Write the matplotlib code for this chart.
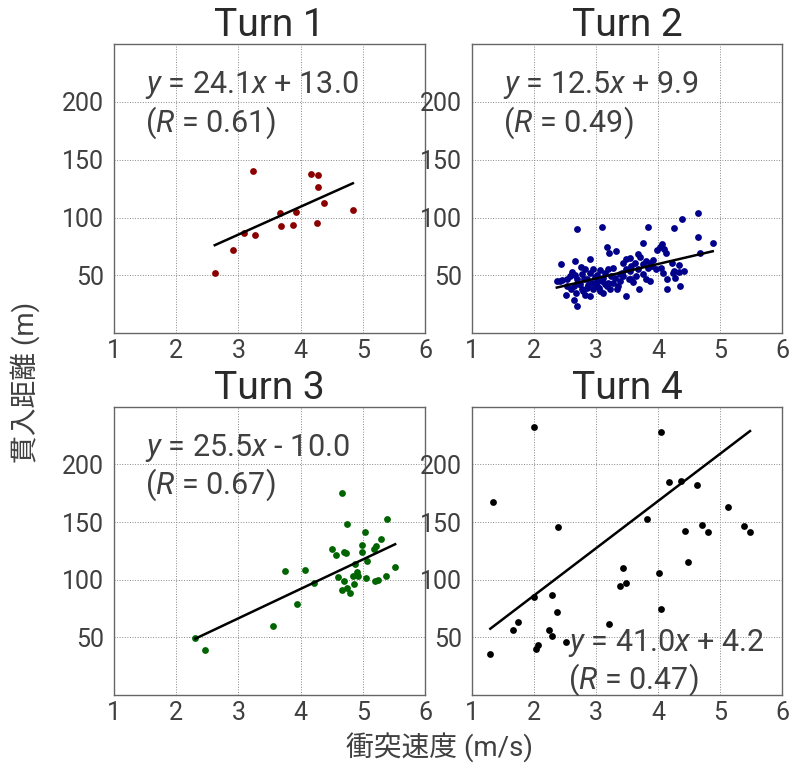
import matplotlib
matplotlib.use("Agg")
import matplotlib.pyplot as plt
import numpy as np

plt.rcParams['font.family'] = ['Roboto', 'Noto Sans CJK JP', 'DejaVu Sans']
plt.rcParams['mathtext.fontset'] = 'custom'
plt.rcParams['mathtext.rm'] = 'Roboto'
plt.rcParams['mathtext.it'] = 'Roboto:italic'

# ---- data: impact speed (m/s) vs. penetration distance (m) per turn ----
titles = ["Turn 1", "Turn 2", "Turn 3", "Turn 4"]
colors = ["#8b0000", "#00008b", "#006400", "#000000"]

t1_speed = [2.62, 2.92, 3.09, 3.23, 3.26, 3.67, 3.68, 3.87, 3.93, 4.16, 4.28, 4.28, 4.27, 4.38, 4.84]
t1_depth = [52.4, 71.9, 87.1, 140.1, 85.1, 103.7, 92.3, 93.7, 104.6, 137.3, 136.7, 126.7, 95.7, 112.3, 106.6]

t2_speed = [2.70, 3.10, 3.84, 4.26, 4.39, 4.65, 4.65, 4.88, 4.67, 3.76, 3.17, 3.32, 3.21,
            2.44, 2.67, 2.90, 2.76, 2.61, 2.42, 2.45, 2.52, 2.64, 2.69, 2.60, 3.48, 3.70,
            4.15, 4.36, 4.14, 4.27, 4.33, 4.41, 4.25, 4.24, 4.33, 4.23, 4.13, 4.09, 4.03,
            4.06, 3.98, 3.92, 3.87, 3.81, 3.68, 3.71, 3.55, 3.44, 3.48, 3.57, 3.68, 3.76,
            3.84, 3.91, 3.97, 4.05, 4.08, 3.81, 3.87, 3.76, 3.65, 3.54, 3.44, 3.39, 3.34,
            3.28, 3.23, 3.17, 3.12, 3.09, 3.15, 3.20, 3.28, 3.25, 3.07, 3.01, 2.96, 2.91,
            2.86, 2.93, 2.96, 2.91, 2.83, 2.77, 2.74, 2.80, 2.70, 2.64, 2.68, 2.85, 3.01,
            3.07, 3.12, 3.20, 3.39, 3.48, 3.55, 3.63, 3.57, 2.59, 2.53, 2.83, 2.77, 2.53,
            3.02, 2.37, 2.72, 2.88, 3.05, 3.30, 3.60, 2.98, 3.14, 2.66, 2.79, 3.36, 3.42]
t2_depth = [89.9, 92.2, 92.2, 91.3, 99.1, 103.8, 82.9, 78.3, 69.7, 78.3, 74.6, 71.1, 69.7,
            59.5, 62.4, 63.9, 57.2, 52.9, 45.1, 46.0, 33.5, 29.2, 24.0, 37.9, 32.1, 38.7,
            38.7, 40.8, 46.5, 48.0, 52.9, 53.8, 53.8, 52.3, 59.0, 61.0, 69.7, 72.5, 74.9,
            76.9, 72.0, 63.0, 61.0, 62.4, 68.2, 66.2, 65.3, 61.0, 63.9, 58.1, 55.2, 59.5,
            56.6, 58.1, 55.2, 56.6, 52.3, 46.5, 45.1, 50.9, 49.4, 47.1, 49.4, 45.1, 38.4,
            43.6, 37.9, 40.8, 35.0, 45.1, 52.3, 55.2, 56.6, 49.4, 54.6, 50.0, 55.2, 52.3,
            46.5, 43.6, 37.9, 32.1, 33.5, 37.9, 42.2, 46.5, 46.5, 40.8, 35.0, 39.3, 40.8,
            36.4, 48.0, 43.6, 50.9, 55.2, 53.8, 61.0, 46.5, 49.4, 46.5, 55.2, 50.9, 41.3,
            45.1, 45.1, 43.0, 41.5, 39.0, 47.5, 44.0, 48.5, 42.5, 50.5, 36.5, 41.0, 52.0]

t3_speed = [2.31, 2.47, 3.55, 3.75, 3.95, 4.07, 4.21, 4.51, 4.57, 4.60, 4.67, 4.67, 4.69,
            4.70, 4.73, 4.75, 4.74, 4.79, 4.84, 4.86, 4.88, 4.91, 4.92, 4.98, 4.98, 5.03,
            5.05, 5.07, 5.18, 5.22, 5.20, 5.25, 5.30, 5.37, 5.39, 5.52]
t3_depth = [49.1, 38.8, 59.5, 107.2, 79.3, 108.0, 97.4, 126.7, 121.2, 102.0, 175.5, 91.0,
            123.8, 98.8, 123.3, 147.9, 93.1, 88.5, 103.1, 95.9, 113.2, 106.6, 103.1, 130.2,
            124.4, 141.4, 101.2, 116.1, 127.0, 129.6, 98.5, 100.0, 135.6, 103.1, 152.2, 111.4]

t4_speed = [1.30, 1.34, 1.66, 1.74, 2.00, 2.00, 2.04, 2.06, 2.24, 2.30, 2.30, 2.38, 2.39,
            2.51, 3.21, 3.38, 3.44, 3.49, 3.83, 4.02, 4.04, 4.05, 4.18, 4.37, 4.44, 4.49,
            4.63, 4.70, 4.80, 5.13, 5.38, 5.48]
t4_depth = [35.3, 167.2, 56.6, 62.9, 232.4, 85.0, 39.9, 43.1, 56.6, 86.5, 51.4, 72.1, 145.7,
            45.6, 61.7, 94.8, 109.7, 96.8, 152.2, 105.6, 228.4, 75.0, 184.5, 185.9, 141.9,
            115.5, 181.8, 147.0, 141.3, 163.4, 146.6, 141.3]

speeds = [t1_speed, t2_speed, t3_speed, t4_speed]
depths = [t1_depth, t2_depth, t3_depth, t4_depth]

# fitted regression: slope, intercept, correlation
slopes = [24.1, 12.5, 25.5, 41.0]
intercepts = [13.0, 9.9, -10.0, 4.2]
r_values = [0.61, 0.49, 0.67, 0.47]

# annotation anchor (data coords, top-left of the text block)
label_pos = [(1.5, 228), (1.5, 228), (1.5, 228), (2.55, 59)]

x_ticks = [1, 2, 3, 4, 5, 6]
y_ticks = [50, 100, 150, 200]

fig = plt.figure(figsize=(7.92, 7.67), dpi=100)
W, H = 792.0, 767.0
rects = [
    (114 / W, 1 - 333.3 / H, 311 / W, 289.3 / H),
    (471.7 / W, 1 - 333.3 / H, 310.6 / W, 289.3 / H),
    (114 / W, 1 - 695 / H, 311 / W, 288.3 / H),
    (471.7 / W, 1 - 695 / H, 310.6 / W, 288.3 / H),
]

text_color = "#404040"

for i in range(4):
    ax = fig.add_axes(rects[i])
    xs = np.array(speeds[i])
    ys = np.array(depths[i])
    ax.scatter(xs, ys, s=24, color=colors[i], zorder=3, linewidths=0)

    xl = np.array([xs.min(), xs.max()])
    ax.plot(xl, slopes[i] * xl + intercepts[i], color="black", lw=1.8, zorder=4)

    sign = "+" if intercepts[i] >= 0 else "-"
    label = (f"$y$ = {slopes[i]:.1f}$x$ {sign} {abs(intercepts[i]):.1f}\n"
             f"($R$ = {r_values[i]:.2f})")
    ax.text(label_pos[i][0], label_pos[i][1], label, fontsize=22, color=text_color,
            ha="left", va="top", zorder=5, linespacing=1.1)

    ax.set_xlim(1, 6)
    ax.set_ylim(0, 250)
    ax.set_xticks(x_ticks)
    ax.set_yticks(y_ticks)
    ax.tick_params(length=0, labelsize=18, labelcolor=text_color)
    ax.tick_params(axis="x", pad=4)
    ax.tick_params(axis="y", pad=7)
    ax.grid(True, linestyle=":", color="#888888", linewidth=0.7)
    ax.set_axisbelow(True)
    for sp in ax.spines.values():
        sp.set_color("#666666")
        sp.set_linewidth(1.0)
    ax.set_title(titles[i], fontsize=28, color="#2a2a2a", pad=4)

fig.text(440 / W, 1 - 748 / H, "衝突速度 (m/s)", fontsize=20, color=text_color,
         ha="center", va="center")
fig.text(25 / W, 1 - 382 / H, "貫入距離 (m)", fontsize=20, color=text_color,
         ha="center", va="center", rotation=90)

fig.savefig("out.png", dpi=100)
